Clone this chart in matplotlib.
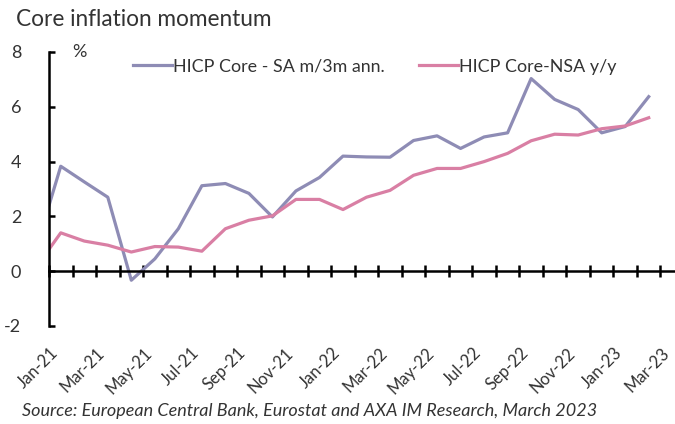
import numpy as np
import matplotlib
matplotlib.use("Agg")
import matplotlib.pyplot as plt

# DATA ----------------------------------------------------------------------

# monthly, Dec-20 .. Feb-23 (Dec-20 only shows as the clipped start of the lines)
months = ["Dec-20",
          "Jan-21", "Feb-21", "Mar-21", "Apr-21", "May-21", "Jun-21",
          "Jul-21", "Aug-21", "Sep-21", "Oct-21", "Nov-21", "Dec-21",
          "Jan-22", "Feb-22", "Mar-22", "Apr-22", "May-22", "Jun-22",
          "Jul-22", "Aug-22", "Sep-22", "Oct-22", "Nov-22", "Dec-22",
          "Jan-23", "Feb-23"]
core_sa_3m = [0.97,
              3.83, 3.26, 2.70, -0.33, 0.45, 1.55,
              3.12, 3.20, 2.84, 1.98, 2.93, 3.42,
              4.20, 4.17, 4.16, 4.77, 4.94, 4.48,
              4.90, 5.05, 7.03, 6.27, 5.90, 5.05,
              5.28, 6.37]
core_nsa_yy = [0.2,
               1.4, 1.1, 0.95, 0.7, 0.9, 0.88,
               0.73, 1.55, 1.86, 2.02, 2.62, 2.62,
               2.25, 2.70, 2.95, 3.50, 3.75, 3.75,
               4.00, 4.30, 4.76, 5.00, 4.97, 5.20,
               5.30, 5.60]
tick_labels = ["Jan-21", "Mar-21", "May-21", "Jul-21", "Sep-21", "Nov-21",
               "Jan-22", "Mar-22", "May-22", "Jul-22", "Sep-22", "Nov-22",
               "Jan-23", "Mar-23"]

PURPLE = "#8E8CB5"
PINK = "#D97FA4"

# PLOT ----------------------------------------------------------------------

plt.rcParams["font.family"] = ["Lato", "DejaVu Sans"]
plt.rcParams["axes.unicode_minus"] = False

fig = plt.figure(figsize=(6.75, 4.24), dpi=100)
ax = fig.add_axes([49 / 675, 1 - 326 / 424, 635 / 675, 274 / 424])

x = np.arange(len(months)) - 1  # Jan-21 -> 0
ax.plot(x, core_sa_3m, color=PURPLE, lw=2.3, label="HICP Core - SA m/3m ann.")
ax.plot(x, core_nsa_yy, color=PINK, lw=2.3, label="HICP Core-NSA y/y")

ax.set_xlim(-0.5, 26.5)
ax.set_ylim(-2, 8)

for s in ["top", "right"]:
    ax.spines[s].set_visible(False)
ax.spines["left"].set_linewidth(1.8)
ax.spines["bottom"].set_linewidth(1.8)
ax.spines["bottom"].set_position(("data", 0))

ax.set_yticks([-2, 0, 2, 4, 6, 8])
ax.tick_params(axis="y", direction="in", length=4, width=1.8, labelsize=13,
               pad=20, colors="black", labelcolor="#333333")

ax.set_xticks(np.arange(-0.5, 26.5, 1))
ax.tick_params(axis="x", which="major", direction="inout", length=8, width=1.8,
               labelbottom=False)
ax.set_xticks(np.arange(0, 27, 2), minor=True)
ax.set_xticklabels(tick_labels, minor=True, rotation=45, ha="right", va="top")
ax.tick_params(axis="x", which="minor", length=0, pad=53, labelsize=12,
               labelcolor="#333333")

ax.text(0.5, 8, "%", fontsize=13, color="#333333", va="center")

ax.legend(loc="upper left", bbox_to_anchor=(0.107, 1.035), ncol=2, frameon=False,
          fontsize=12.9, handlelength=2.15, handletextpad=0.1, columnspacing=1.9,
          labelcolor="#333333")

fig.text(16 / 675, 1 - 20 / 424, "Core inflation momentum", fontsize=16.3,
         color="#333333", va="center")
fig.text(22 / 675, 1 - 411 / 424,
         "Source: European Central Bank, Eurostat and AXA IM Research, March 2023",
         fontsize=13, style="italic", color="#333333", va="center")

fig.savefig("out.png", dpi=100)
